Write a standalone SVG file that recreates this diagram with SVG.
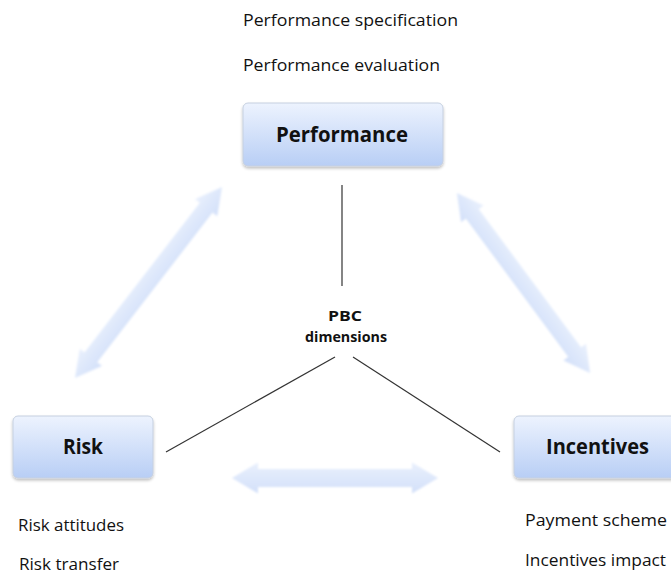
<svg xmlns="http://www.w3.org/2000/svg" width="671" height="575" viewBox="0 0 671 575">
<defs>
<style>
.box{fill:url(#boxg);stroke:#c6d0e0;stroke-width:1}
.bt{font-family:"Open Sans","Liberation Sans",sans-serif;font-weight:bold;font-size:21px;fill:#111;text-anchor:middle}
.t{font-family:"Open Sans","Liberation Sans",sans-serif;font-size:16px;fill:#111}
.lbl{font-family:"Open Sans","Liberation Sans",sans-serif;font-weight:bold;font-size:14px;fill:#111;text-anchor:middle}
.ln{stroke:#333;stroke-width:1.2;fill:none}
.arr{fill:url(#arrg);filter:url(#soft)}
</style>
<linearGradient id="boxg" x1="0" y1="0" x2="0" y2="1">
<stop offset="0" stop-color="#edf3fe"/>
<stop offset="1" stop-color="#b8cef5"/>
</linearGradient>
<linearGradient id="arrg" x1="0" y1="0" x2="0" y2="1">
<stop offset="0" stop-color="#e9f0fd"/>
<stop offset="1" stop-color="#d3e0f9"/>
</linearGradient>
<filter id="soft" x="-10%" y="-50%" width="120%" height="200%">
<feGaussianBlur stdDeviation="0.8"/>
</filter>
<filter id="shadow" x="-10%" y="-20%" width="120%" height="150%">
<feGaussianBlur in="SourceAlpha" stdDeviation="1.5"/>
<feOffset dy="1.5"/>
<feComponentTransfer><feFuncA type="linear" slope="0.25"/></feComponentTransfer>
<feMerge><feMergeNode/><feMergeNode in="SourceGraphic"/></feMerge>
</filter>
</defs>
<rect width="671" height="575" fill="#fff"/>

<g id="connectors">
<line class="ln" x1="342" y1="185" x2="342" y2="286"/>
<line class="ln" x1="335" y1="357" x2="166" y2="452"/>
<line class="ln" x1="353" y1="357" x2="500" y2="452"/>
<path class="arr" transform="translate(148.5,282.5) rotate(-52.4)" d="M-120.5,0 L-94.5,-14 L-94.5,-8 L94.5,-8 L94.5,-14 L120.5,0 L94.5,14 L94.5,8 L-94.5,8 L-94.5,14 Z"/>
<path class="arr" transform="translate(523.5,283) rotate(53.5)" d="M-112,0 L-86,-14 L-86,-8 L86,-8 L86,-14 L112,0 L86,14 L86,8 L-86,8 L-86,14 Z"/>
<path class="arr" transform="translate(335,478)" d="M-103,0 L-77,-15.5 L-77,-9 L77,-9 L77,-15.5 L103,0 L77,15.5 L77,9 L-77,9 L-77,15.5 Z"/>
</g>

<g id="performance">
<rect class="box" filter="url(#shadow)" x="243" y="103" width="200" height="63" rx="5"/>
<text class="bt" x="342" y="142" textLength="132" lengthAdjust="spacingAndGlyphs">Performance</text>
</g>

<g id="risk">
<rect class="box" filter="url(#shadow)" x="13" y="416" width="140" height="62" rx="5"/>
<text class="bt" x="83" y="454" textLength="40" lengthAdjust="spacingAndGlyphs">Risk</text>
</g>

<g id="incentives">
<rect class="box" filter="url(#shadow)" x="514" y="416" width="170" height="62" rx="5"/>
<text class="bt" x="597.5" y="454" textLength="103" lengthAdjust="spacingAndGlyphs">Incentives</text>
</g>

<g id="pbc">
<text class="lbl" x="345" y="321" textLength="34" lengthAdjust="spacingAndGlyphs">PBC</text>
<text class="lbl" x="346" y="342" textLength="82" lengthAdjust="spacingAndGlyphs">dimensions</text>
</g>

<g id="labels">
<text class="t" x="243" y="26" textLength="215" lengthAdjust="spacingAndGlyphs">Performance specification</text>
<text class="t" x="243" y="71" textLength="197" lengthAdjust="spacingAndGlyphs">Performance evaluation</text>
<text class="t" x="18" y="531" textLength="106" lengthAdjust="spacingAndGlyphs">Risk attitudes</text>
<text class="t" x="19" y="570" textLength="100" lengthAdjust="spacingAndGlyphs">Risk transfer</text>
<text class="t" x="525" y="526" textLength="142" lengthAdjust="spacingAndGlyphs">Payment  scheme</text>
<text class="t" x="525" y="566" textLength="141" lengthAdjust="spacingAndGlyphs">Incentives impact</text>
</g>
</svg>
